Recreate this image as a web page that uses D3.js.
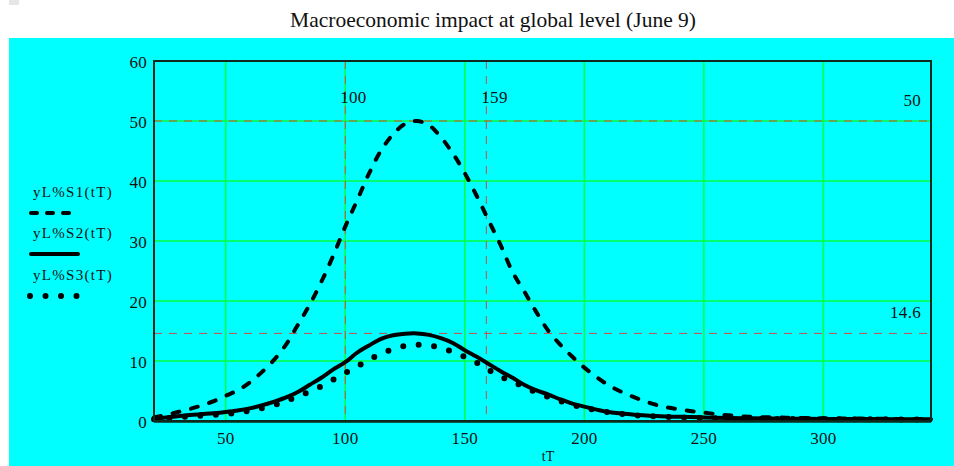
<!DOCTYPE html>
<html>
<head>
<meta charset="utf-8">
<script src="https://cdn.jsdelivr.net/npm/d3@7"></script>
<style>
  body { margin: 0; background: #fff; }
  svg { display: block; font-family: "Liberation Serif", "Times New Roman", serif; }
</style>
</head>
<body>
<svg id="chart" width="954" height="466"></svg>
<script>
// Chart data
const tT = [20, 25, 30, 35, 40, 45, 50, 55, 60, 65, 70, 75, 80, 85, 90, 95, 100, 105, 110, 115,
  120, 125, 130, 135, 140, 145, 150, 155, 160, 165, 170, 175, 180, 185, 190, 195, 200,
  210, 220, 230, 240, 250, 260, 270, 280, 290, 300, 315, 330, 345];

const yS1 = [0.6, 1.0, 1.5, 2.0, 2.6, 3.3, 4.2, 5.1, 6.4, 8.1, 10.1, 12.6, 15.9, 19.3, 23.2, 27.6, 32.4, 36.8, 41.3, 45.1,
  47.8, 49.5, 50.0, 49.3, 47.3, 44.6, 41.3, 37.5, 33.4, 29.3, 24.8, 21.5, 18.1, 15.0, 12.7, 10.7, 8.9,
  6.0, 4.1, 2.7, 1.9, 1.4, 0.95, 0.7, 0.6, 0.5, 0.45, 0.4, 0.35, 0.3];

const yS2 = [0.4, 0.6, 0.8, 1.0, 1.15, 1.3, 1.5, 1.75, 2.1, 2.6, 3.2, 3.9, 4.8, 6.0, 7.2, 8.6, 9.8, 11.4, 12.6, 13.7,
  14.3, 14.55, 14.6, 14.35, 13.8, 13.0, 11.8, 10.7, 9.5, 8.3, 7.2, 6.0, 5.1, 4.4, 3.6, 2.9, 2.4,
  1.5, 1.1, 0.85, 0.7, 0.6, 0.5, 0.45, 0.4, 0.38, 0.35, 0.32, 0.3, 0.3];

const yS3 = [0.3, 0.45, 0.6, 0.75, 0.9, 1.0, 1.15, 1.4, 1.7, 2.1, 2.6, 3.3, 4.1, 4.9, 5.8, 6.9, 8.0, 9.1, 10.2, 11.2,
  12.0, 12.5, 12.7, 12.6, 12.2, 11.5, 10.7, 9.7, 8.5, 7.4, 6.6, 5.6, 4.8, 4.0, 3.3, 2.7, 2.2,
  1.45, 1.0, 0.75, 0.6, 0.5, 0.45, 0.4, 0.35, 0.33, 0.3, 0.28, 0.27, 0.25];

const seriesNames = ["yL%S1(tT)", "yL%S2(tT)", "yL%S3(tT)"];
const xTicks = [50, 100, 150, 200, 250, 300];
const yTicks = [0, 10, 20, 30, 40, 50, 60];
const vMarkers = [100, 159];
const hMarkers = [50, 14.6];

const title = "Macroeconomic impact at global level (June 9)";
const xLabel = "tT";

// Layout
const plot = { left: 154, top: 61, right: 931, bottom: 421 };
const svg = d3.select("#chart");

const x = d3.scaleLinear().domain([20, 345]).range([plot.left, plot.right]);
const y = d3.scaleLinear().domain([0, 60]).range([plot.bottom, plot.top]);

// Backgrounds
svg.append("rect").attr("x", 9).attr("y", 0).attr("width", 10).attr("height", 5).attr("fill", "#e6e6e6");
svg.append("rect").attr("x", 9).attr("y", 38).attr("width", 945).attr("height", 428).attr("fill", "#00ffff");

svg.append("text")
  .attr("x", 493).attr("y", 27)
  .attr("text-anchor", "middle")
  .attr("font-size", 21.5)
  .attr("fill", "#111")
  .text(title);

// Grid
const grid = svg.append("g").attr("stroke", "#00ff3c").attr("stroke-width", 1.5);
grid.selectAll("line.v").data(xTicks).join("line")
  .attr("x1", d => x(d)).attr("x2", d => x(d))
  .attr("y1", plot.top).attr("y2", plot.bottom);
grid.selectAll("line.h").data(yTicks.filter(d => d > 0 && d < 60)).join("line")
  .attr("x1", plot.left).attr("x2", plot.right)
  .attr("y1", d => y(d)).attr("y2", d => y(d));

// Marker lines
const mk = svg.append("g").attr("stroke", "#d04848").attr("stroke-width", 1).attr("stroke-dasharray", "8,7");
mk.selectAll("line.v").data(vMarkers).join("line")
  .attr("x1", d => x(d)).attr("x2", d => x(d))
  .attr("y1", plot.top).attr("y2", plot.bottom);
mk.selectAll("line.h").data(hMarkers).join("line")
  .attr("x1", plot.left).attr("x2", plot.right)
  .attr("y1", d => y(d)).attr("y2", d => y(d));

const labelFont = { size: 17, spacing: 0.3 };

svg.selectAll("text.vm").data(vMarkers).join("text")
  .attr("x", d => x(d) - 5).attr("y", 103)
  .attr("font-size", labelFont.size).attr("letter-spacing", labelFont.spacing)
  .attr("fill", "#111")
  .text(d => d);
svg.selectAll("text.hm").data(hMarkers).join("text")
  .attr("x", 921).attr("y", d => y(d) - 15)
  .attr("text-anchor", "end")
  .attr("font-size", labelFont.size).attr("letter-spacing", labelFont.spacing)
  .attr("fill", "#111")
  .text(d => d);

// Curves
const pts = vals => tT.map((t, i) => [t, vals[i]]);
const line = d3.line().x(d => x(d[0])).y(d => y(d[1])).curve(d3.curveCatmullRom.alpha(0.5));

const styles = [
  { width: 4, dash: "7,12", cap: "round" },
  { width: 4, dash: null, cap: "round" },
  { width: 6, dash: "0,15.5", cap: "round" }
];

[yS1, yS2, yS3].forEach((vals, i) => {
  svg.append("path")
    .datum(pts(vals))
    .attr("d", line)
    .attr("fill", "none")
    .attr("stroke", "#000")
    .attr("stroke-width", styles[i].width)
    .attr("stroke-linecap", styles[i].cap)
    .attr("stroke-linejoin", "round")
    .attr("stroke-dasharray", styles[i].dash);
});

// Frame
svg.append("rect")
  .attr("x", plot.left).attr("y", plot.top)
  .attr("width", plot.right - plot.left).attr("height", plot.bottom - plot.top)
  .attr("fill", "none").attr("stroke", "#0d2a1d").attr("stroke-width", 2);
svg.append("line")
  .attr("x1", plot.left).attr("x2", plot.right)
  .attr("y1", plot.bottom + 0.5).attr("y2", plot.bottom + 0.5)
  .attr("stroke", "#0d2a1d").attr("stroke-width", 2.5);

// Tick labels
svg.selectAll("text.yt").data(yTicks).join("text")
  .attr("x", 147).attr("y", d => y(d) + 7)
  .attr("text-anchor", "end")
  .attr("font-size", labelFont.size).attr("letter-spacing", labelFont.spacing)
  .attr("fill", "#111")
  .text(d => d);
svg.selectAll("text.xt").data(xTicks).join("text")
  .attr("x", d => x(d)).attr("y", 444)
  .attr("text-anchor", "middle")
  .attr("font-size", labelFont.size).attr("letter-spacing", labelFont.spacing)
  .attr("fill", "#111")
  .text(d => d);
svg.append("text")
  .attr("x", 548).attr("y", 461)
  .attr("text-anchor", "middle")
  .attr("font-size", 14)
  .attr("fill", "#111")
  .text(xLabel);

// Legend
const legendY = [197, 238, 280];
const legend = svg.append("g");
seriesNames.forEach((name, i) => {
  legend.append("text")
    .attr("x", 33).attr("y", legendY[i])
    .attr("font-size", 15).attr("letter-spacing", 1.3)
    .attr("fill", "#111")
    .text(name);
  legend.append("line")
    .attr("x1", i === 2 ? 30 : 31).attr("x2", i === 2 ? 78 : (i === 0 ? 72 : 78))
    .attr("y1", legendY[i] + 16).attr("y2", legendY[i] + 16)
    .attr("stroke", "#000")
    .attr("stroke-width", styles[i].width)
    .attr("stroke-linecap", styles[i].cap)
    .attr("stroke-dasharray", i === 0 ? "6,10" : styles[i].dash);
});
</script>
</body>
</html>
